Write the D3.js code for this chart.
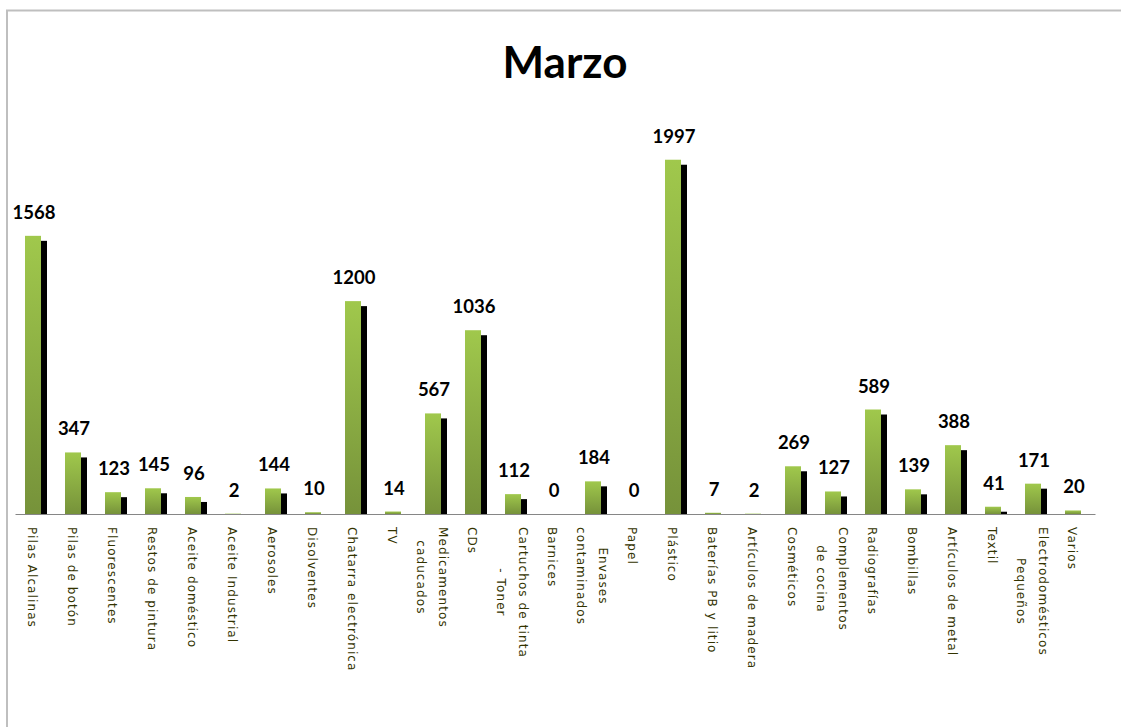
<!DOCTYPE html>
<html>
<head>
<meta charset="utf-8">
<script src="https://cdn.jsdelivr.net/npm/d3@7"></script>
<style>
  body { margin: 0; background: #fff; }
  .value { font-family: Lato, "Open Sans", sans-serif; font-weight: bold; font-size: 18.5px; fill: #000; }
  .cat { font-family: "DejaVu Sans", sans-serif; font-size: 12px; letter-spacing: 1.1px; fill: #333300; }
  .title { font-family: Lato, sans-serif; font-weight: bold; font-size: 44px; fill: #000; }
</style>
</head>
<body>
<div id="chart"></div>
<script>
// Chart data (Marzo)
var categories = [
  "Pilas Alcalinas", "Pilas de botón", "Fluorescentes", "Restos de pintura",
  "Aceite doméstico", "Aceite Industrial", "Aerosoles", "Disolventes",
  "Chatarra electrónica", "TV", "Medicamentos\ncaducados", "CDs",
  "Cartuchos de tinta\n- Toner", "Barnices", "Envases\ncontaminados", "Papel",
  "Plástico", "Baterías PB y litio", "Artículos de madera", "Cosméticos",
  "Complementos\nde cocina", "Radiografías", "Bombillas", "Artículos de metal",
  "Textil", "Electrodomésticos\nPequeños", "Varios"
];
var values = [
  1568, 347, 123, 145, 96, 2, 144, 10, 1200, 14, 567, 1036, 112, 0,
  184, 0, 1997, 7, 2, 269, 127, 589, 139, 388, 41, 171, 20
];
var titleText = "Marzo";

var W = 1121, H = 727;
var baseY = 514;

var svg = d3.select('#chart').append('svg')
  .attr('width', W)
  .attr('height', H);

// gradient for the green bars
var grad = svg.append('defs').append('linearGradient')
  .attr('id', 'greenGrad')
  .attr('x1', 0).attr('y1', 0).attr('x2', 0).attr('y2', 1);
grad.append('stop').attr('offset', '0%').attr('stop-color', '#a0c84c');
grad.append('stop').attr('offset', '100%').attr('stop-color', '#76923a');

// chart area frame (left and top edge visible)
svg.append('path')
  .attr('d', 'M7,' + H + 'V10.5H' + W)
  .attr('fill', 'none')
  .attr('stroke', '#bfbfbf')
  .attr('stroke-width', 2);

svg.append('text')
  .classed('title', true)
  .attr('x', 565)
  .attr('y', 78)
  .attr('text-anchor', 'middle')
  .text(titleText);

var x = d3.scaleBand()
  .domain(categories)
  .range([15, 1095]);

var y = d3.scaleLinear()
  .domain([0, 2500])
  .range([baseY, 70.5]);

var bw = x.bandwidth() * 0.4;
var off = x.bandwidth() * 0.25;

var data = categories.map(function(c, i) {
  return {cat: c, value: values[i]};
});

// shadows first
svg.selectAll('.shadow')
  .data(data)
  .enter()
  .append('rect')
  .classed('shadow', true)
  .attr('x', function(d) { return x(d.cat) + off + 6; })
  .attr('y', function(d) { return y(d.value) + 5; })
  .attr('width', bw)
  .attr('height', function(d) { return Math.max(0, baseY - y(d.value) - 5); })
  .attr('fill', '#000');

svg.selectAll('.bar')
  .data(data)
  .enter()
  .append('rect')
  .classed('bar', true)
  .attr('x', function(d) { return x(d.cat) + off; })
  .attr('y', function(d) { return y(d.value); })
  .attr('width', bw)
  .attr('height', function(d) { return baseY - y(d.value); })
  .attr('fill', 'url(#greenGrad)');

svg.selectAll('.value')
  .data(data)
  .enter()
  .append('text')
  .classed('value', true)
  .attr('x', function(d) { return x(d.cat) + off + bw / 2 + 1; })
  .attr('y', function(d) { return y(d.value) - 17; })
  .attr('text-anchor', 'middle')
  .text(function(d) { return d.value; });

// axis
var xAxis = d3.axisBottom(x).tickSize(0).tickFormat('');
var gx = svg.append('g')
  .attr('transform', 'translate(0,' + baseY + ')')
  .call(xAxis);
gx.select('.domain').attr('stroke', '#868686').attr('stroke-width', 1);
gx.selectAll('.tick text').remove();

// rotated category labels, lines centred on the longest one
var lineGap = 22;
gx.selectAll('.tick').each(function(c) {
  var lines = c.split('\n');
  var n = lines.length;
  var g = d3.select(this);
  var tmp = g.append('text').classed('cat', true);
  var maxLen = 0;
  lines.forEach(function(l) {
    tmp.text(l);
    maxLen = Math.max(maxLen, tmp.node().getComputedTextLength());
  });
  tmp.remove();
  var cx = -7 + (n - 1) * lineGap / 2;
  var t = g.append('text')
    .classed('cat', true)
    .attr('text-anchor', 'middle')
    .attr('transform', 'translate(' + cx + ',' + (13 + maxLen / 2) + ') rotate(90)');
  lines.forEach(function(l, i) {
    t.append('tspan')
      .attr('x', 0)
      .attr('y', i * lineGap)
      .text(l);
  });
});
</script>
</body>
</html>
